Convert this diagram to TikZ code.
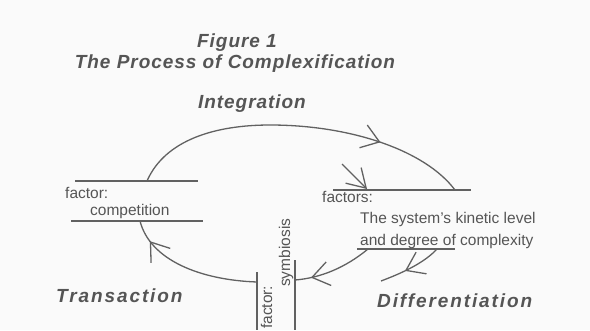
\documentclass[tikz,border=0pt]{standalone}
\usepackage{fontspec}
\setmainfont{Liberation Sans}
\usetikzlibrary{arrows.meta,decorations.markings}
\definecolor{ink}{HTML}{555555}
\definecolor{stroke}{HTML}{616161}
\definecolor{paper}{HTML}{FAFAFA}
\tikzset{
  flow/.style={draw=stroke, line width=1.3pt},
  rule/.style={draw=stroke, line width=1.3pt},
  barbtip/.style={-{Straight Barb[length=18pt,width=22pt]}},
  midarrow/.style={postaction={decorate}, decoration={markings,
      mark=at position #1 with {\arrow[line width=1.3pt]{Straight Barb[length=17pt,width=24pt]}}}},
  heading/.style={text=ink, inner sep=0pt,
      font=\fontsize{19}{22}\selectfont\bfseries\itshape\addfontfeature{LetterSpace=10}},
  titletext/.style={text=ink, inner sep=0pt,
      font=\fontsize{19}{22}\selectfont\bfseries\itshape\addfontfeature{LetterSpace=5}},
  smalltext/.style={text=ink, inner sep=0pt, font=\fontsize{15.5}{18}\selectfont},
}
\begin{document}
\begin{tikzpicture}[x=1pt, y=-1pt]
  \fill[paper] (0,0) rectangle (590,330);
  \useasboundingbox (0,0) rectangle (590,330);

  % headings
  \node[titletext, anchor=base] (fig) at (237,47) {Figure 1};
  \node[titletext, anchor=base] (title) at (235,68) {The Process of Complexification};
  \node[titletext, anchor=base] (integ) at (252,108) {Integration};
  \node[heading, anchor=base west] (trans) at (56,302) {Transaction};
  \node[heading, anchor=base west] (diff) at (377,307) {Differentiation};

  % small labels
  \node[smalltext, anchor=base west] (f1) at (65,198) {factor:};
  \node[smalltext, anchor=base west] (comp) at (90,215) {competition};
  \node[smalltext, anchor=base west] (fs) at (322,202) {factors:};
  \node[smalltext, anchor=base west] (kin) at (360,223) {The system's kinetic level};
  \node[smalltext, anchor=base west] (deg) at (360,245) {and degree of complexity};
  \node[smalltext, anchor=base west, rotate=90] (f2) at (272,329) {factor:};
  \node[smalltext, anchor=base west, rotate=90] (sym) at (290,287) {symbiosis};

  % rule lines
  \coordinate (l1a) at (75,181);  \coordinate (l1b) at (198,181);
  \coordinate (l2a) at (71,221);  \coordinate (l2b) at (203,221);
  \coordinate (l3a) at (333,190); \coordinate (l3b) at (471,190);
  \coordinate (l4a) at (357,249); \coordinate (l4b) at (455,249);
  \coordinate (v1a) at (257,272); \coordinate (v1b) at (257,330);
  \coordinate (v2a) at (295,260); \coordinate (v2b) at (295,330);
  \draw[rule] (l1a) -- (l1b);
  \draw[rule] (l2a) -- (l2b);
  \draw[rule] (l3a) -- (l3b);
  \draw[rule] (l4a) -- (l4b);
  \draw[rule] (v1a) -- (v1b);
  \draw[rule] (v2a) -- (v2b);

  % cycle arcs
  \coordinate (a0) at (147,181);
  \coordinate (atop) at (270,125);
  \coordinate (a1) at (455,190);
  \draw[flow, midarrow=0.74] (a0) .. controls (165,140) and (215,125) .. (atop)
        .. controls (350,125) and (425,150) .. (a1);

  \coordinate (b0) at (368,249);
  \coordinate (b1) at (295,280);
  \draw[flow, midarrow=0.8] (b0) .. controls (345,268) and (320,278) .. (b1);

  \coordinate (c0) at (257,282);
  \coordinate (c1) at (140,221);
  \draw[flow, midarrow=0.84] (c0) .. controls (200,280) and (150,260) .. (c1);

  % short arrows
  \coordinate (d0) at (342,164);
  \coordinate (d1) at (367,189);
  \draw[flow, barbtip] (d0) -- (d1);

  \coordinate (e0) at (437,249);
  \coordinate (e1) at (381,281);
  \draw[flow, midarrow=0.6] (e0) .. controls (425,262) and (405,272) .. (e1);
\end{tikzpicture}
\end{document}
